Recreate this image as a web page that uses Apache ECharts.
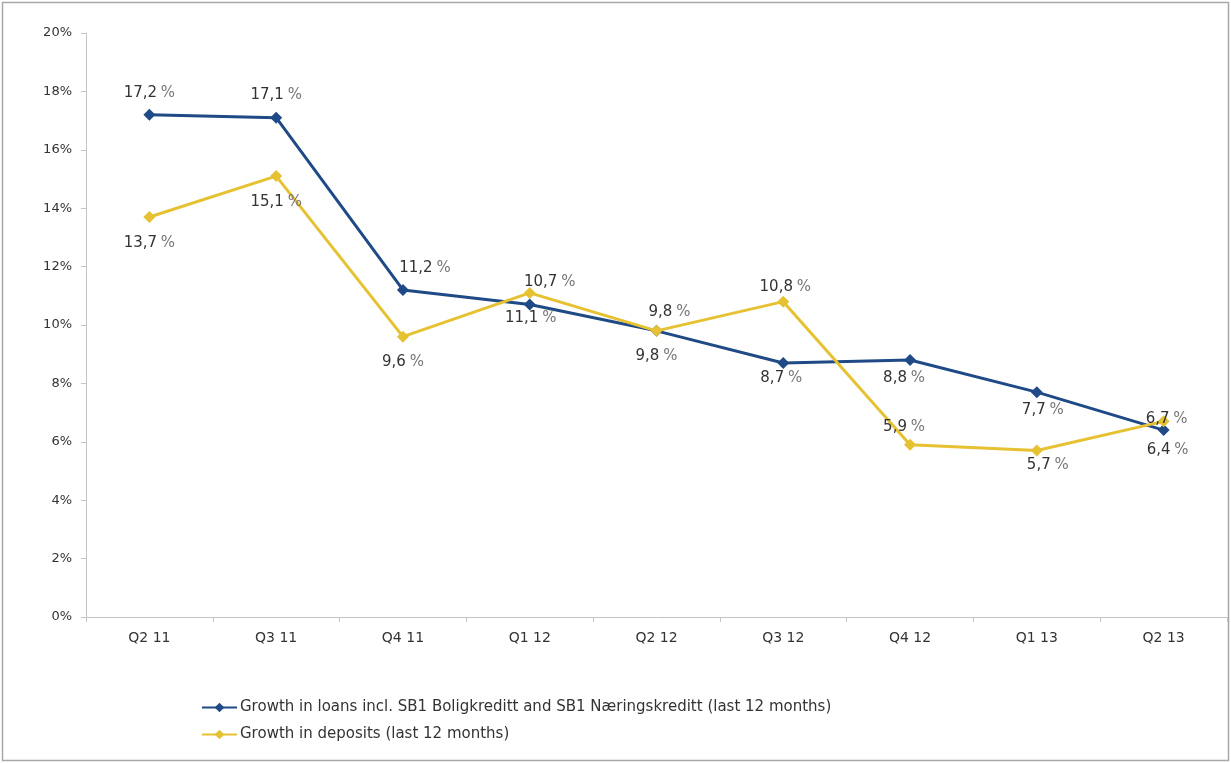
<!DOCTYPE html>
<html>
<head>
<meta charset="utf-8">
<script src="https://cdn.jsdelivr.net/npm/echarts@6/dist/echarts.min.js"></script>
<style>
  html, body { margin: 0; padding: 0; background: #fff; }
  #chart { width: 1231px; height: 763px; }
</style>
</head>
<body>
<div id="chart"></div>
<script>
// Quarterly 12-month growth rates, in percent
const quarters = ['Q2 11', 'Q3 11', 'Q4 11', 'Q1 12', 'Q2 12', 'Q3 12', 'Q4 12', 'Q1 13', 'Q2 13'];
const loanGrowth = [17.2, 17.1, 11.2, 10.7, 9.8, 8.7, 8.8, 7.7, 6.4];
const depositGrowth = [13.7, 15.1, 9.6, 11.1, 9.8, 10.8, 5.9, 5.7, 6.7];
const yTicks = [0, 2, 4, 6, 8, 10, 12, 14, 16, 18, 20];

const loanName = 'Growth in loans incl. SB1 Boligkreditt and SB1 Næringskreditt (last 12 months)';
const depositName = 'Growth in deposits (last 12 months)';

// Label nudges (pixels from the marker centre) so the two series' labels don't collide
const loanLabelShift = [[0, -22], [0, -23], [22, -22], [20, -22], [13, -19], [-2, 15], [-6, 18], [6, 18], [4, 20]];
const depositLabelShift = [[0, 26], [0, 26], [0, 25], [1, 25], [0, 25], [2, -15], [-6, -18], [11, 15], [3, -2]];

const FONT = 'DejaVu Sans';
const NAVY = '#1F4A86';
const GOLD = '#E6C132';

function fmt(v) {
  return v.toFixed(1).replace('.', ',');
}

function seriesData(values, shifts) {
  return values.map((v, i) => ({
    value: v,
    label: { offset: shifts[i] }
  }));
}

const labelStyle = {
  show: true,
  position: 'inside',
  fontFamily: FONT,
  formatter: p => '{n|' + fmt(p.value) + '} {p|%}',
  rich: {
    n: { fontFamily: FONT, fontSize: 15, color: '#333333' },
    p: { fontFamily: FONT, fontSize: 15, color: '#777777' }
  }
};

const chart = echarts.init(document.getElementById('chart'), null, { renderer: 'canvas' });

chart.setOption({
  animation: false,
  backgroundColor: '#fff',
  graphic: [{
    type: 'rect',
    shape: { x: 2.5, y: 2.5, width: 1226, height: 758 },
    style: { fill: null, stroke: '#a8a8a8', lineWidth: 1.5 },
    silent: true
  }],
  grid: { left: 86, right: 4, top: 33, bottom: 146 },
  legend: {
    orient: 'vertical',
    left: 201,
    top: 700,
    padding: 0,
    itemWidth: 35,
    itemHeight: 12,
    itemGap: 12,
    textStyle: { fontFamily: FONT, fontSize: 15, color: '#333', padding: [0, 0, 0, -2] },
    data: [loanName, depositName]
  },
  xAxis: {
    type: 'category',
    data: quarters,
    boundaryGap: true,
    axisLine: { lineStyle: { color: '#c4c4c4', width: 1 } },
    axisTick: { show: true, length: 5, lineStyle: { color: '#c4c4c4' } },
    axisLabel: { fontFamily: FONT, fontSize: 14, color: '#333333', margin: 14 },
    splitLine: { show: false }
  },
  yAxis: {
    type: 'value',
    min: yTicks[0],
    max: yTicks[yTicks.length - 1],
    interval: yTicks[1] - yTicks[0],
    axisLine: { show: true, lineStyle: { color: '#c4c4c4', width: 1 } },
    axisTick: { show: true, length: 5, lineStyle: { color: '#c4c4c4' } },
    axisLabel: { fontFamily: FONT, fontSize: 13, color: '#333333', margin: 14, formatter: v => v + '%' },
    splitLine: { show: false }
  },
  series: [
    {
      name: loanName,
      type: 'line',
      data: seriesData(loanGrowth, loanLabelShift),
      symbol: 'diamond',
      symbolSize: 12,
      lineStyle: { color: NAVY, width: 3 },
      itemStyle: { color: NAVY },
      label: labelStyle,
      z: 2
    },
    {
      name: depositName,
      type: 'line',
      data: seriesData(depositGrowth, depositLabelShift),
      symbol: 'diamond',
      symbolSize: 12,
      lineStyle: { color: GOLD, width: 3 },
      itemStyle: { color: GOLD },
      label: labelStyle,
      z: 3
    }
  ]
});
</script>
</body>
</html>
